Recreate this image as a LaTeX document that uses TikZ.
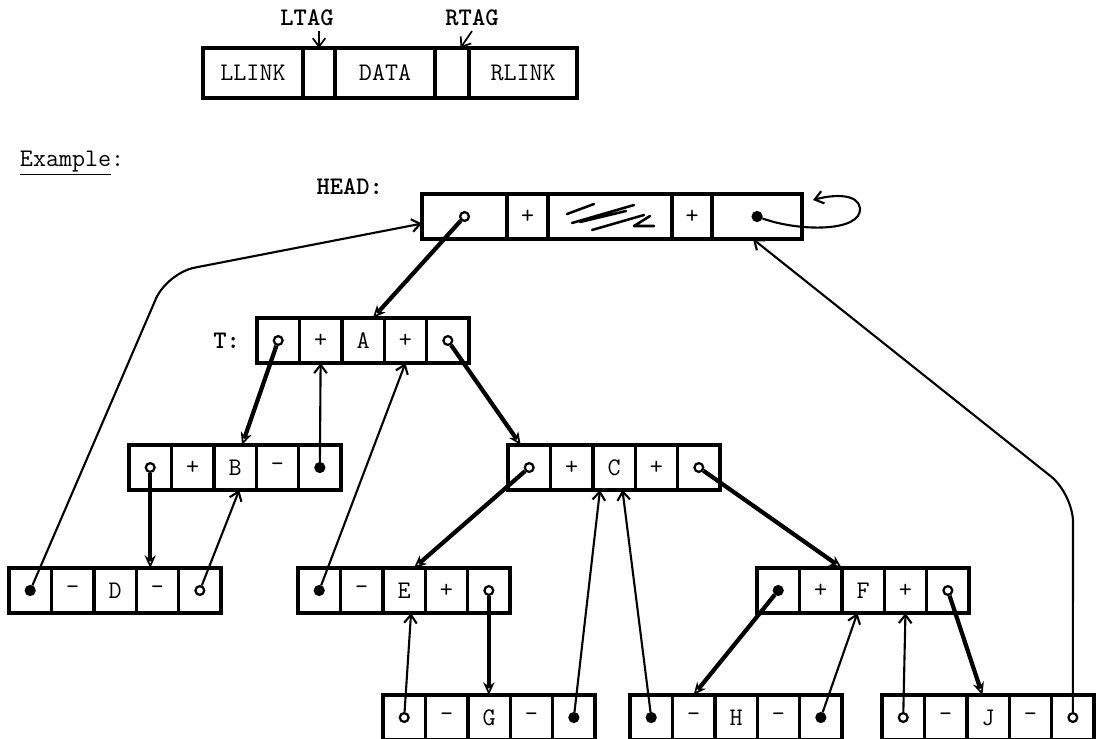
\documentclass[tikz,border=0pt]{standalone}
\usepackage{tikz}
\usetikzlibrary{arrows.meta, positioning, calc}

\begin{document}
\begin{tikzpicture}[
    x=0.025cm, y=-0.025cm,
    font=\ttfamily\fontsize{18}{20}\selectfont,
    cell/.style={draw, line width=2.4pt, minimum width=1.06cm, minimum height=1.125cm, inner sep=0pt, outer sep=0pt},
    cellstart/.style={cell, anchor=north west},
    fmtcell/.style={cell, minimum height=1.25cm},
    lbl/.style={font=\ttfamily\bfseries\fontsize{18}{20}\selectfont},
    ptr/.style={circle, draw, line width=1.6pt, minimum size=0.22cm, inner sep=0pt},
    link/.style={-{Stealth[open, length=9pt, width=8pt, line width=1.2pt]}, line width=3pt},
    thread/.style={-{Straight Barb[length=6pt, width=9pt]}, line width=1.5pt},
]
\useasboundingbox (0,0) rectangle (1096,738);

% Node layout
\node[fmtcell, anchor=north west, minimum width=2.5cm] (fmt1) at (203,48) {LLINK};
\node[fmtcell, minimum width=0.8cm, right=0pt of fmt1] (fmt2) {};
\node[fmtcell, minimum width=2.5cm, right=0pt of fmt2] (fmt3) {DATA};
\node[fmtcell, minimum width=0.85cm, right=0pt of fmt3] (fmt4) {};
\node[fmtcell, minimum width=2.7cm, right=0pt of fmt4] (fmt5) {RLINK};

\node[lbl] (ltag) at (307,18) {LTAG};
\node[lbl] (rtag) at (472,18) {RTAG};
\draw[thread, line width=1.2pt] (ltag.south -| fmt2.north) -- (fmt2.north);
\draw[thread, line width=1.2pt] (rtag.south) -- ([xshift=6pt]fmt4.north);

\node[anchor=west] (example) at (15,163) {\underline{Example}:};

% List head
\node[cellstart, minimum width=2.125cm] (head1) at (422,194) {};
\node[cell, minimum width=1.025cm, right=0pt of head1] (head2) {+};
\node[cell, minimum width=3.1cm, right=0pt of head2] (head3) {};
\node[cell, minimum width=1cm, right=0pt of head3] (head4) {+};
\node[cell, minimum width=2.25cm, right=0pt of head4] (head5) {};
\node[lbl, anchor=east] (headlbl) at (388,187) {HEAD:};
\node[ptr, fill=white] (headl) at (head1) {};
\node[ptr, fill=black] (headr) at (head5) {};

% hatching in the head's data field
\draw[line width=1.8pt, line cap=round, line join=round]
    (567,214) -- (594,204) (572,223) -- (634,205) (580,222) -- (626,211)
    (592,230) -- (644,215) (650,216) -- (634,226) -- (654,226);

% Tree nodes
\foreach \rec/\px/\py/\tagl/\val/\tagr/\fll/\flr in {
    t/257/318/+/A/+/white/white,
    b/129/445/+/B/-/white/black,
    c/508/445/+/C/+/white/white,
    d/9/568/-/D/-/black/white,
    e/298/568/-/E/+/black/white,
    f/757/568/+/F/+/black/white,
    g/383/695/-/G/-/white/black,
    h/630/695/-/H/-/black/black,
    j/882/695/-/J/-/white/white} {
  \node[cellstart] (\rec1) at (\px,\py) {};
  \node[cell, right=0pt of \rec1] (\rec2) {\tagl};
  \node[cell, right=0pt of \rec2] (\rec3) {\val};
  \node[cell, right=0pt of \rec3] (\rec4) {\tagr};
  \node[cell, right=0pt of \rec4] (\rec5) {};
  \node[ptr, fill=\fll] (\rec l) at (\rec1) {};
  \node[ptr, fill=\flr] (\rec r) at (\rec5) {};
}
\node[lbl, left=0.3cm of t1] (tlbl) {T:};

% Links
\draw[link] (headl) -- ([xshift=7pt]t3.north);
\draw[link] (tl) -- ([xshift=5pt]b3.north);
\draw[link] (tr) -- ([xshift=-6pt]c1.north);
\draw[link] (bl) -- (bl |- d4.north);
\draw[link] (cl) -- ([xshift=7pt]e3.north);
\draw[link] (cr) -- (f3.north west);
\draw[link] (er) -- (er |- g3.north);
\draw[link] (fl) -- (h2.north);
\draw[link] (fr) -- ([xshift=-4pt]j3.north);

% Threads
\coordinate (dbend) at (167,273);
\coordinate (jbend) at (1073,494);
\coordinate (loopend) at (813,200);
\draw[thread, rounded corners=20pt] (dl) -- (dbend) -- ([yshift=-5pt]head1.west);
\draw[thread] (dr) -- ([xshift=3pt]b3.south);
\draw[thread] (br) -- (t2.south);
\draw[thread] (el) -- (t4.south);
\draw[thread] (gl) -- ([xshift=5pt]e3.south);
\draw[thread] (gr) -- ([xshift=-10pt]c3.south);
\draw[thread] (hl) -- ([xshift=6pt]c3.south);
\draw[thread] (hr) -- ([xshift=-4pt]f3.south);
\draw[thread] (jl) -- (f4.south);
\draw[thread, rounded corners=20pt] (jr) -- (jbend) -- ([xshift=-3pt]head5.south);
\draw[thread] (headr) .. controls (800,232) and (862,232) .. (860,208)
    .. controls (858,194) and (835,194) .. (loopend);

\end{tikzpicture}
\end{document}
